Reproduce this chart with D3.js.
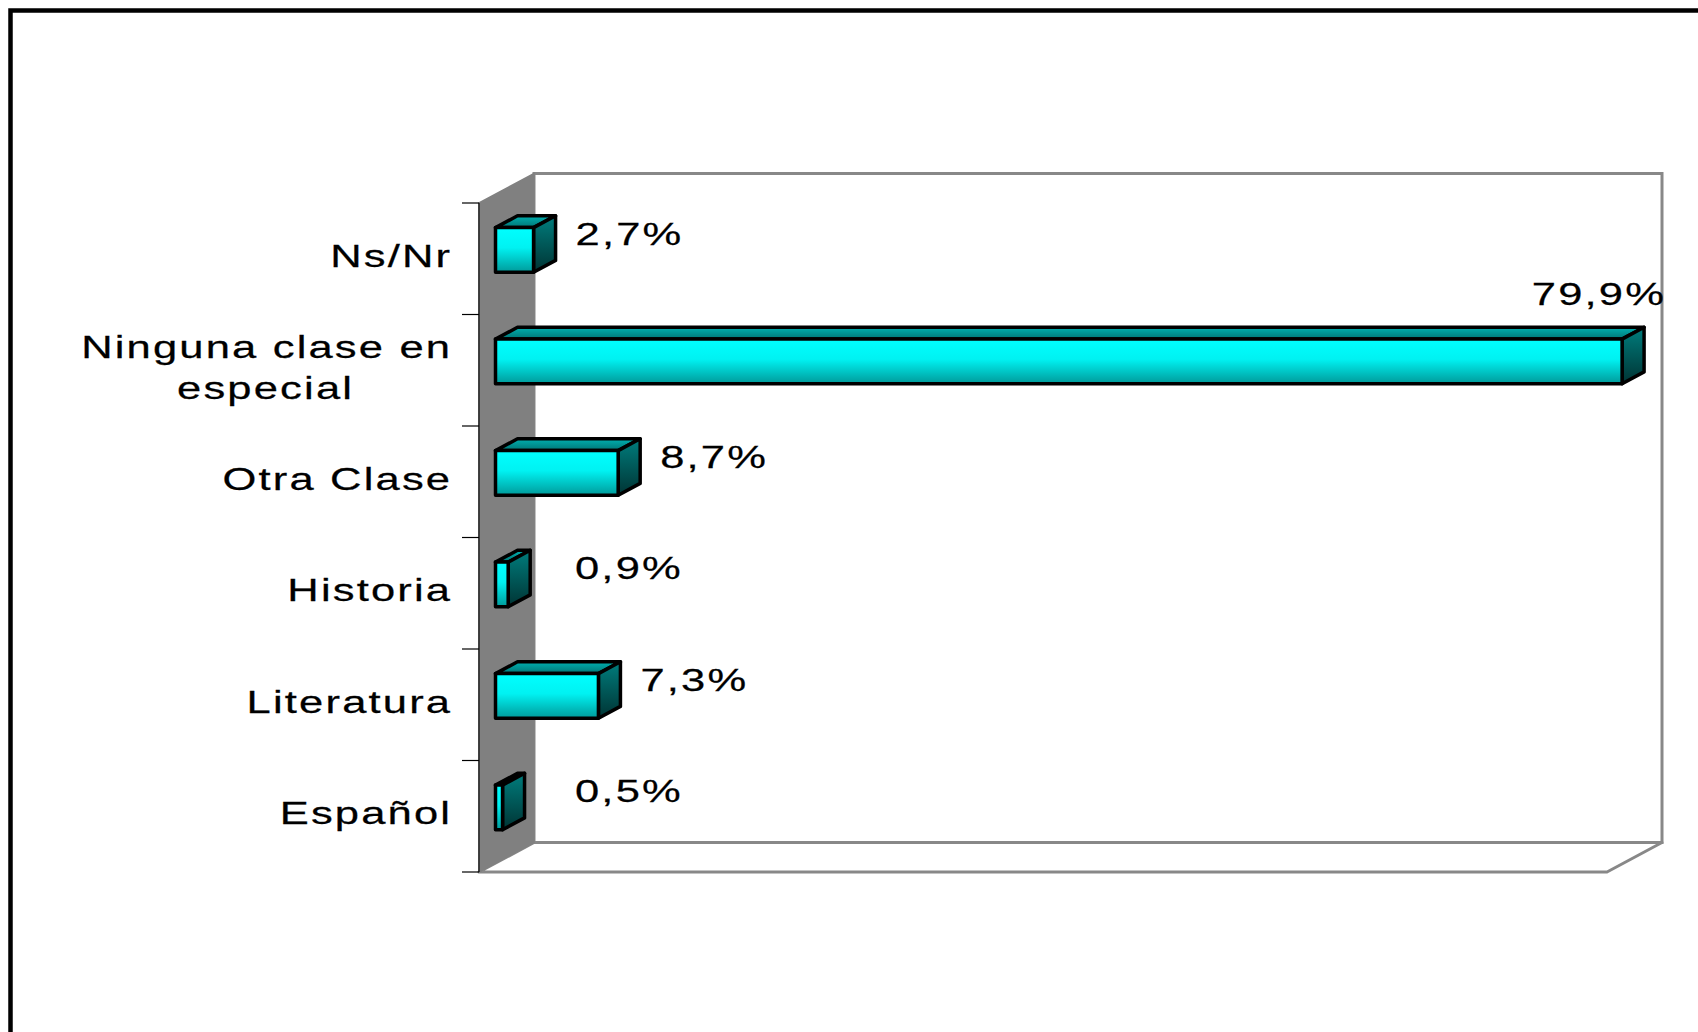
<!DOCTYPE html>
<html>
<head>
<meta charset="utf-8">
<script src="https://cdn.jsdelivr.net/npm/d3@7"></script>
<style>
  html, body { margin: 0; padding: 0; background: #fff; overflow: hidden; }
  svg { display: block; }
  text { font-family: "Liberation Sans", Arial, sans-serif; font-size: 32px; fill: #000; stroke: #000; stroke-width: 0.25px; }
</style>
</head>
<body>
<svg id="chart" width="1698" height="1032"></svg>
<script>
// ---- data ----
const categories = ["Ns/Nr", "Ninguna clase en especial", "Otra Clase", "Historia", "Literatura", "Español"];
const values = [2.7, 79.9, 8.7, 0.9, 7.3, 0.5];
const xDomain = [0, 80];

// ---- layout ----
const W = 1698, H = 1032;
const front = { left: 479, right: 1607, top: 203, bottom: 872 };
const depth = { dx: 55, dy: -29.5 };
const barDepth = [0.3, 0.7];
const textScale = 1.36, letterSp = 1.6;

const svg = d3.select("#chart");
const defs = svg.append("defs");

function vGrad(id, stops) {
  const g = defs.append("linearGradient").attr("id", id)
    .attr("x1", 0).attr("y1", 0).attr("x2", 0).attr("y2", 1);
  stops.forEach(s => g.append("stop").attr("offset", s[0]).attr("stop-color", s[1]));
}
vGrad("gFront", [[0, "#00ffff"], [0.45, "#00f2f2"], [1, "#009a9a"]]);
vGrad("gTop", [[0, "#00b0b0"], [1, "#007575"]]);
vGrad("gSide", [[0, "#007d7d"], [1, "#003434"]]);

// outer frame
svg.append("rect").attr("x", 10.5).attr("y", 10.5).attr("width", W + 20).attr("height", H + 20)
  .attr("fill", "none").attr("stroke", "#000").attr("stroke-width", 4.5);

const x = d3.scaleLinear().domain(xDomain).range([front.left, front.right]);
const y = d3.scaleBand().domain(categories).range([front.top, front.bottom])
  .paddingInner(0.6).paddingOuter(0.3);
const step = y.step();

const backL = front.left + depth.dx, backT = front.top + depth.dy;
const backR = front.right + depth.dx, backB = front.bottom + depth.dy;

// back wall
svg.append("rect").attr("x", backL).attr("y", backT).attr("width", backR - backL).attr("height", backB - backT)
  .attr("fill", "#fff").attr("stroke", "#888").attr("stroke-width", 3);
// floor
svg.append("polygon")
  .attr("points", [[front.left, front.bottom], [backL, backB], [backR, backB], [front.right, front.bottom]].map(p => p.join(",")).join(" "))
  .attr("fill", "#fff").attr("stroke", "#888").attr("stroke-width", 3).attr("stroke-linejoin", "round");
// side wall
svg.append("polygon")
  .attr("points", [[front.left, front.top], [backL, backT], [backL, backB], [front.left, front.bottom]].map(p => p.join(",")).join(" "))
  .attr("fill", "#808080").attr("stroke", "#808080").attr("stroke-width", 1.5);

// category axis line + ticks (between categories)
const axisG = svg.append("g");
axisG.append("line").attr("x1", front.left).attr("x2", front.left)
  .attr("y1", front.top).attr("y2", front.bottom).attr("stroke", "#222").attr("stroke-width", 1.5);
d3.range(categories.length + 1).forEach(i => {
  const ty = front.top + i * step;
  axisG.append("line").attr("x1", front.left - 17).attr("x2", front.left)
    .attr("y1", ty).attr("y2", ty).attr("stroke", "#000").attr("stroke-width", 1.2);
});

// category labels (wrapped, right aligned block, lines centered)
const labelRight = 450, lineH = 41.5, maxLabelW = 380;
categories.forEach(c => {
  const cy = y(c) + y.bandwidth() / 2;
  const g = svg.append("g");
  const words = c.split(" ");
  const lines = [];
  let cur = "";
  const probe = g.append("text").style("letter-spacing", letterSp + "px");
  words.forEach(w => {
    const t = cur ? cur + " " + w : w;
    probe.text(t);
    if (cur && probe.node().getComputedTextLength() * textScale > maxLabelW) { lines.push(cur); cur = w; }
    else cur = t;
  });
  lines.push(cur);
  probe.remove();
  const firstBase = cy + 8 - (lines.length - 1) * lineH / 2;
  g.attr("transform", `translate(${labelRight},${firstBase}) scale(${textScale},1)`);
  const t0 = g.append("text").attr("text-anchor", "end").attr("x", letterSp)
    .style("letter-spacing", letterSp + "px").text(lines[0]);
  const w0 = t0.node().getComputedTextLength();
  for (let i = 1; i < lines.length; i++) {
    g.append("text").attr("text-anchor", "middle").attr("x", -w0 / 2 + letterSp / 2)
      .attr("y", i * lineH).style("letter-spacing", letterSp + "px").text(lines[i]);
  }
});

// bars
const f1 = barDepth[0], f2 = barDepth[1];
const fmt = d3.formatLocale({ decimal: ",", thousands: ".", grouping: [3], currency: ["", "€"] }).format(".1f");
const barsG = svg.append("g");
categories.forEach((c, i) => {
  const v = values[i];
  const ox = depth.dx * f1, oy = depth.dy * f1;
  const bx = depth.dx * f2, by = depth.dy * f2;
  const x0 = x(0) + ox, x1 = x(v) + ox;
  const y0 = y(c) + oy, y1 = y(c) + y.bandwidth() + oy;
  const ddx = bx - ox, ddy = by - oy;
  const g = barsG.append("g").attr("stroke", "#000").attr("stroke-width", 3.5).attr("stroke-linejoin", "round");
  const pts = a => a.map(p => p.join(",")).join(" ");
  g.append("polygon").attr("fill", "url(#gTop)")
    .attr("points", pts([[x0, y0], [x1, y0], [x1 + ddx, y0 + ddy], [x0 + ddx, y0 + ddy]]));
  g.append("polygon").attr("fill", "url(#gSide)")
    .attr("points", pts([[x1, y0], [x1 + ddx, y0 + ddy], [x1 + ddx, y1 + ddy], [x1, y1]]));
  g.append("rect").attr("fill", "url(#gFront)")
    .attr("x", x0).attr("y", y0).attr("width", Math.max(0, x1 - x0)).attr("height", y1 - y0);

  // value label
  const backRightX = x(v) + bx;
  const lg = svg.append("g");
  const lt = lg.append("text").style("letter-spacing", letterSp + "px").text(fmt(v) + "%");
  const tw = lt.node().getComputedTextLength() * textScale;
  let lx = Math.max(backRightX + 20, x(0) + 96);
  let ly = y(c) + y.bandwidth() / 2 - 14;
  if (lx + tw > backR) {
    lx = backRightX + 22 - tw;
    ly = y(c) + by - 22;
  }
  lg.attr("transform", `translate(${lx},${ly}) scale(${textScale},1)`);
});
</script>
</body>
</html>
